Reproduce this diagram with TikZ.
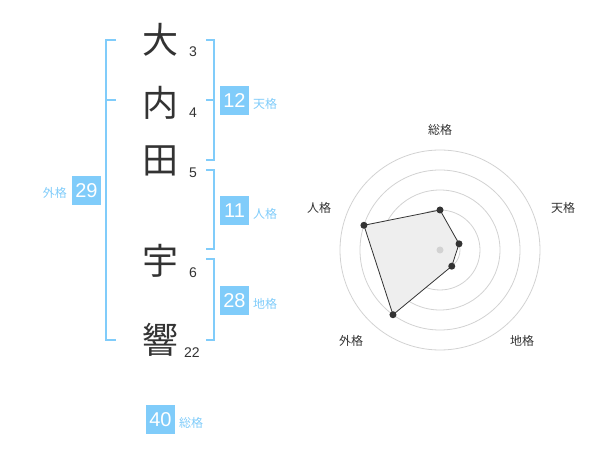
\documentclass[tikz,border=0pt]{standalone}
\usepackage{fontspec}
\setmainfont{Liberation Sans}
\newfontfamily\cjk{Noto Sans CJK JP}
\definecolor{sky}{RGB}{128,204,250}
\definecolor{ink}{RGB}{51,51,51}
\definecolor{ring}{RGB}{210,210,210}
\definecolor{area}{RGB}{238,238,238}
\tikzset{
  kanji/.style={font=\cjk\fontsize{36}{36}\selectfont, text=ink, inner sep=0pt},
  strokes/.style={font=\fontsize{14}{14}\selectfont, text=ink, inner sep=0pt},
  badge/.style={fill=sky, text=white, minimum size=29pt, inner sep=0pt, font=\fontsize{20}{20}\selectfont},
  lbl/.style={font=\cjk\fontsize{12}{12}\selectfont, text=sky, inner sep=0pt},
  bracket/.style={draw=sky, line width=2pt},
  axislbl/.style={font=\cjk\fontsize{12}{12}\selectfont, text=ink, inner sep=0pt},
  dot/.style={circle, fill=ink, inner sep=0pt, minimum size=7pt},
}
\begin{document}
\begin{tikzpicture}[x=1pt, y=-1pt]
\useasboundingbox (0,0) rectangle (600,470);
% kanji
\node[kanji] (k1) at (160,40) {大};
\node[kanji] (k2) at (160,103) {内};
\node[kanji] (k3) at (160,161) {田};
\node[kanji] (k4) at (160,261) {宇};
\node[kanji] (k5) at (160,340) {響};
% stroke counts
\node[strokes] (n1) at (193,52) {3};
\node[strokes] (n2) at (193,113) {4};
\node[strokes] (n3) at (193,173) {5};
\node[strokes] (n4) at (193,273) {6};
\node[strokes] (n5) at (192,353) {22};
% brackets
\draw[bracket] (116,40) -- (106,40) -- (106,340) -- (116,340);
\draw[bracket] (106,100) -- (116,100);
\draw[bracket] (206,40) -- (214,40) -- (214,160) -- (206,160);
\draw[bracket] (206,100) -- (214,100);
\draw[bracket] (206,170) -- (214,170) -- (214,249) -- (206,249);
\draw[bracket] (206,259) -- (214,259) -- (214,340) -- (206,340);
% badges
\node[badge] (b1) at (234.5,100.5) {12};
\node[lbl, anchor=west] (l1) at (253,104) {天格};
\node[badge] (b2) at (234.5,210.5) {11};
\node[lbl, anchor=west] (l2) at (253,214) {人格};
\node[badge] (b3) at (234.5,300.5) {28};
\node[lbl, anchor=west] (l3) at (253,304) {地格};
\node[badge] (b4) at (86.5,190.5) {29};
\node[lbl, anchor=east] (l4) at (67,193) {外格};
\node[badge] (b5) at (160.5,419.5) {40};
\node[lbl, anchor=west] (l5) at (179,423) {総格};
% radar
\begin{scope}[shift={(440,250)}, yscale=-1]
  \foreach \r in {20,40,60,80,100} \draw[ring, line width=0.8pt] (0,0) circle (\r);
  \coordinate (ps) at (90:40);
  \coordinate (pt) at (18:20);
  \coordinate (pc) at (-54:20);
  \coordinate (pg) at (-126:80);
  \coordinate (pj) at (162:80);
  \filldraw[fill=area, draw=ink, line width=0.8pt] (ps) -- (pt) -- (pc) -- (pg) -- (pj) -- cycle;
  \node[circle, fill=ring, inner sep=0pt, minimum size=7pt] (ctr) at (0,0) {};
  \foreach \p in {ps,pt,pc,pg,pj} \node[dot] (d\p) at (\p) {};
\end{scope}
\node[axislbl] (a1) at (440,130) {総格};
\node[axislbl] (a2) at (563,208) {天格};
\node[axislbl] (a3) at (522,341) {地格};
\node[axislbl] (a4) at (351,341) {外格};
\node[axislbl] (a5) at (319,208) {人格};
\end{tikzpicture}
\end{document}
